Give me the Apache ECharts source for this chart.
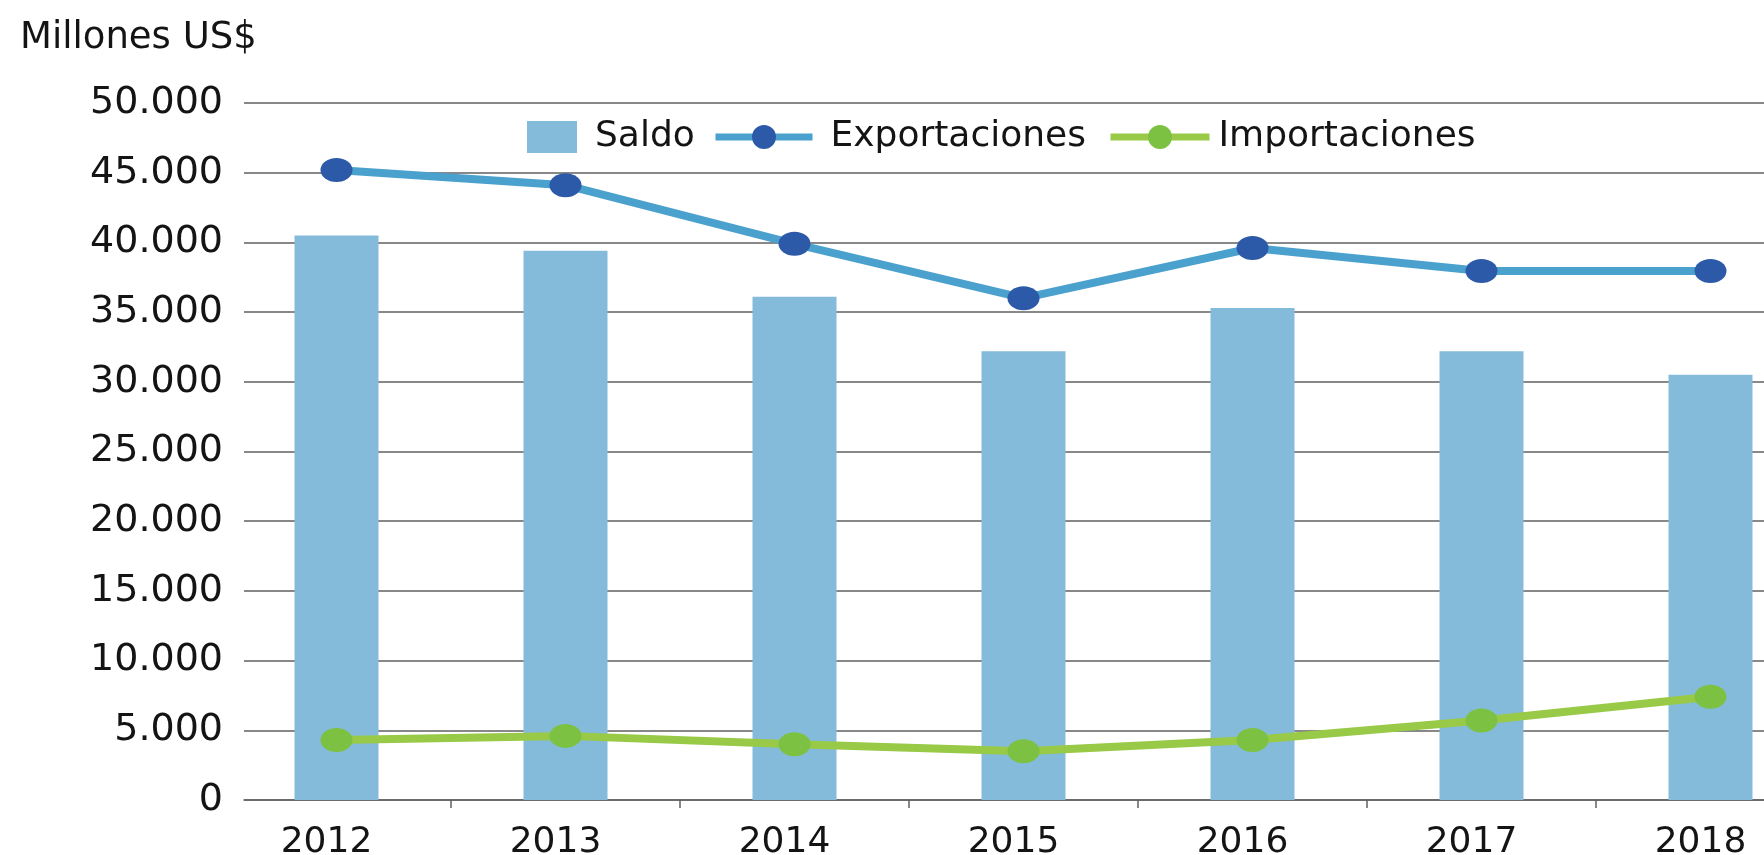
<!DOCTYPE html>
<html>
<head>
<meta charset="utf-8">
<title>Saldo, exportaciones e importaciones</title>
<script src="https://cdn.jsdelivr.net/npm/echarts@6/dist/echarts.min.js"></script>
<style>
  html, body { margin: 0; padding: 0; background: #ffffff; }
  #chart { width: 1764px; height: 855px; }
</style>
</head>
<body>
<div id="chart"></div>
<script>
// Millones de US$ por año
const years = ['2012', '2013', '2014', '2015', '2016', '2017', '2018'];
const saldo = [40500, 39400, 36100, 32200, 35300, 32200, 30500];
const exportaciones = [45200, 44100, 39900, 36000, 39600, 37950, 37950];
const importaciones = [4300, 4600, 4000, 3500, 4300, 5700, 7400];

const yMin = 0, yMax = 50000, yStep = 5000;

const FONT = 'DejaVu Sans';
const TEXT = '#141414';
const GRID_LINE = '#606060';
const C_SALDO = '#85BBDA';
const C_EXP_LINE = '#4BA1CD';
const C_EXP_DOT = '#2D5AA8';
const C_IMP_LINE = '#98C947';
const C_IMP_DOT = '#7DC142';

function miles(v) {
  return String(v).replace(/\B(?=(\d{3})+(?!\d))/g, '.');
}

const chart = echarts.init(document.getElementById('chart'), null, { renderer: 'canvas' });

const plotTop = 103, plotHeight = 697;
const legendText = { fontSize: 36, fontFamily: FONT, color: TEXT };

chart.setOption({
  animation: false,
  backgroundColor: '#ffffff',
  textStyle: { fontFamily: FONT },
  graphic: [{
    type: 'text',
    left: 20,
    top: 20,
    style: { text: 'Millones US$', font: '37px "' + FONT + '"', fill: TEXT }
  }],
  legend: [
    {
      data: ['Saldo'], left: 527, top: 119, padding: 0,
      icon: 'rect', itemWidth: 50, itemHeight: 32,
      textStyle: Object.assign({ padding: [0, 0, 0, 13] }, legendText)
    },
    {
      data: ['Exportaciones'], left: 712, top: 119, padding: 0,
      itemWidth: 97, itemHeight: 30,
      lineStyle: { width: 7 },
      textStyle: Object.assign({ padding: [0, 0, 0, 13] }, legendText)
    },
    {
      data: ['Importaciones'], left: 1107, top: 119, padding: 0,
      itemWidth: 99, itemHeight: 30,
      lineStyle: { width: 7 },
      textStyle: Object.assign({ padding: [0, 0, 0, 4] }, legendText)
    }
  ],
  grid: [
    // frame: value labels, horizontal rules and the baseline
    { left: 244, right: 0, top: plotTop, height: plotHeight, outerBoundsMode: 'none' },
    // plot area for the series, its last band runs past the right edge
    { left: 222, width: 1603, top: plotTop, height: plotHeight, outerBoundsMode: 'none' }
  ],
  xAxis: [
    {
      gridIndex: 0, type: 'value', min: 0, max: 1,
      axisLine: { show: true, lineStyle: { color: GRID_LINE, width: 1.5 } },
      axisTick: { show: false }, axisLabel: { show: false }, splitLine: { show: false }
    },
    {
      gridIndex: 1, type: 'category', data: years, boundaryGap: true,
      axisLine: { show: false },
      axisTick: { show: true, length: 8, lineStyle: { color: GRID_LINE, width: 1.5 },
                  interval: function (i) { return i !== 0; } },
      axisLabel: { fontSize: 36, fontFamily: FONT, color: TEXT, margin: 25,
                   padding: [0, 20, 0, 0] },
      splitLine: { show: false }
    }
  ],
  yAxis: [
    {
      gridIndex: 0, type: 'value', min: yMin, max: yMax, interval: yStep,
      axisLine: { show: false }, axisTick: { show: false },
      axisLabel: { fontSize: 38, fontFamily: FONT, color: TEXT, margin: 21, formatter: miles },
      splitLine: { show: true, lineStyle: { color: GRID_LINE, width: 1.5 } }
    },
    {
      gridIndex: 1, type: 'value', min: yMin, max: yMax, interval: yStep,
      show: false, splitLine: { show: false }
    }
  ],
  series: [
    {
      name: 'Saldo', type: 'bar', xAxisIndex: 1, yAxisIndex: 1,
      data: saldo, barWidth: 84,
      itemStyle: { color: C_SALDO }
    },
    {
      name: 'Exportaciones', type: 'line', xAxisIndex: 1, yAxisIndex: 1,
      data: exportaciones,
      symbol: 'circle', symbolSize: [32, 24],
      lineStyle: { color: C_EXP_LINE, width: 8 },
      itemStyle: { color: C_EXP_DOT },
      z: 3
    },
    {
      name: 'Importaciones', type: 'line', xAxisIndex: 1, yAxisIndex: 1,
      data: importaciones,
      symbol: 'circle', symbolSize: [32, 24],
      lineStyle: { color: C_IMP_LINE, width: 8 },
      itemStyle: { color: C_IMP_DOT },
      z: 3
    }
  ]
});
</script>
</body>
</html>
